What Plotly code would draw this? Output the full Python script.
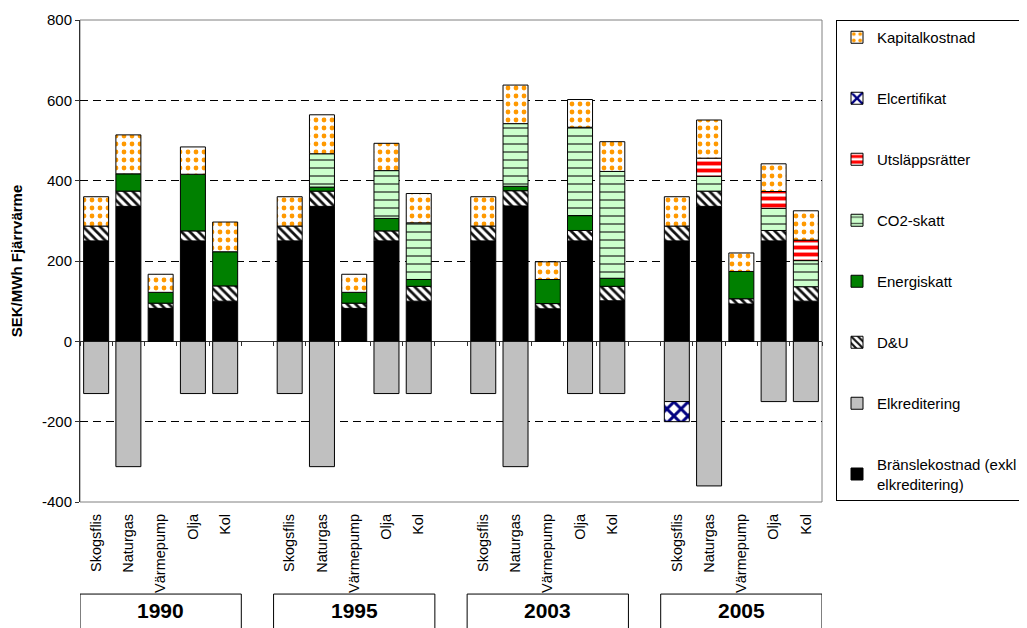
import plotly.graph_objects as go

# ---------------- data ----------------
years = ["1990", "1995", "2003", "2005"]
categories = ["Skogsflis", "Naturgas", "Värmepump", "Olja", "Kol"]

bransle = {
    "1990": [250, 336, 82, 250, 100],
    "1995": [250, 336, 82, 250, 100],
    "2003": [250, 337, 81, 250, 101],
    "2005": [250, 336, 93, 250, 100],
}
elkreditering = {
    "1990": [-130, -312, 0, -130, -130],
    "1995": [-130, -312, 0, -130, -130],
    "2003": [-130, -312, 0, -130, -130],
    "2005": [-150, -360, 0, -150, -150],
}
du = {
    "1990": [37, 38, 13, 25, 38],
    "1995": [37, 38, 13, 25, 37],
    "2003": [37, 38, 13, 26, 36],
    "2005": [37, 38, 13, 26, 36],
}
energiskatt = {
    "1990": [0, 43, 27, 141, 85],
    "1995": [0, 10, 27, 31, 17],
    "2003": [0, 11, 60, 37, 20],
    "2005": [0, 0, 68, 0, 0],
}
co2skatt = {
    "1990": [0, 0, 0, 0, 0],
    "1995": [0, 83, 0, 119, 141],
    "2003": [0, 156, 0, 220, 266],
    "2005": [0, 37, 0, 55, 65],
}
utslapp = {
    "1990": [0, 0, 0, 0, 0],
    "1995": [0, 0, 0, 0, 0],
    "2003": [0, 0, 0, 0, 0],
    "2005": [0, 45, 0, 42, 51],
}
elcertifikat = {
    "1990": [0, 0, 0, 0, 0],
    "1995": [0, 0, 0, 0, 0],
    "2003": [0, 0, 0, 0, 0],
    "2005": [-50, 0, 0, 0, 0],
}
kapital = {
    "1990": [73, 97, 45, 68, 74],
    "1995": [73, 97, 45, 68, 73],
    "2003": [73, 96, 44, 69, 74],
    "2005": [73, 95, 46, 69, 73],
}
y_ticks = [-400, -200, 0, 200, 400, 600, 800]

# ---------------- layout helpers ----------------
FONT = "Liberation Sans, Arial, sans-serif"
W, H = 1019, 620            # page body adds an 8px offset; figure ends at the window edge
ML, MT = 72, 12
PW, PH = 742, 482
slot = len(categories) + 1  # one empty slot between year groups
n_slots = len(years) * slot - 1
ymin, ymax = y_ticks[0], y_ticks[-1]

xpos, xlab = [], []
for g, yr in enumerate(years):
    for c, cat in enumerate(categories):
        xpos.append(g * slot + c)
        xlab.append(cat)


def flat(d):
    out = []
    for yr in years:
        out += [v if v else None for v in d[yr]]
    return out


def pat(shape, fg, bg, size, solidity):
    return dict(shape=shape, fgcolor=fg, bgcolor=bg, size=size, solidity=solidity,
                fillmode="overlay", fgopacity=1)


series = [
    ("Bränslekostnad (exkl<br>elkreditering)", bransle, dict(color="black")),
    ("Elkreditering", elkreditering, dict(color="#C0C0C0")),
    ("D&U", du, dict(color="white", pattern=pat("\\", "#101010", "white", 6, 0.45))),
    ("Energiskatt", energiskatt, dict(color="#008000")),
    ("CO2-skatt", co2skatt, dict(color="#CCFFCC", pattern=pat("-", "#4A5A4A", "#CCFFCC", 8, 0.2))),
    ("Utsläppsrätter", utslapp, dict(color="white", pattern=pat("-", "#FF0000", "white", 7, 0.55))),
    ("Elcertifikat", elcertifikat, dict(color="white", pattern=pat("x", "#000080", "white", 10, 0.5))),
    ("Kapitalkostnad", kapital, dict(color="white", pattern=pat(".", "#FF9900", "white", 8, 0.28))),
]

fig = go.Figure()
n = len(series)
for i, (name, d, mk) in enumerate(series):
    mk = dict(mk)
    mk["line"] = dict(color="black", width=1)
    fig.add_trace(go.Bar(
        x=xpos, y=flat(d), name=name, marker=mk,
        legendgroup="g%d" % i, legendrank=n - i, hoverinfo="name+y",
    ))

# dummy trace to carry the tick marks on the zero line
fig.add_trace(go.Scatter(x=[None], y=[None], xaxis="x2", showlegend=False, hoverinfo="skip"))

boundaries = [k - 0.5 for k in range(n_slots + 1)]

fig.update_layout(
    width=W, height=H,
    margin=dict(l=ML, r=W - ML - PW, t=MT, b=H - MT - PH, autoexpand=False),
    paper_bgcolor="white", plot_bgcolor="white",
    barmode="relative", bargap=0.225,
    font=dict(family=FONT, color="black"),
    showlegend=True,
    legend=dict(
        x=(828 - ML) / PW, y=1 + (MT - 12) / PH, xanchor="left", yanchor="top",
        bordercolor="black", borderwidth=1, bgcolor="white",
        font=dict(family=FONT, size=15, color="black"),
        traceorder="grouped", tracegroupgap=38.5, maxheight=600,
    ),
    xaxis=dict(
        range=[-0.5, n_slots - 0.5], tickmode="array", tickvals=xpos, ticktext=xlab,
        tickangle=-90, ticks="", ticklabelstandoff=8, automargin=False,
        tickfont=dict(family=FONT, size=14.5, color="black"),
        showgrid=False, zeroline=False, showline=False, fixedrange=True,
    ),
    xaxis2=dict(
        overlaying="x", anchor="free", position=(0 - ymin) / (ymax - ymin),
        range=[-0.5, n_slots - 0.5], tickmode="array", tickvals=boundaries,
        ticks="outside", ticklen=4, tickcolor="#303030", tickwidth=1,
        showticklabels=False, showgrid=False, zeroline=False, showline=False,
    ),
    yaxis=dict(
        range=[ymin, ymax], tickmode="array", tickvals=y_ticks,
        ticktext=[str(v) for v in y_ticks], automargin=False,
        ticks="outside", ticklen=4, tickcolor="#303030",
        tickfont=dict(family=FONT, size=15, color="black"),
        showgrid=True, gridcolor="black", gridwidth=1, griddash="8px,5px",
        zeroline=True, zerolinecolor="#303030", zerolinewidth=1,
        showline=True, linecolor="#303030", linewidth=1,
        title=dict(text="<b>SEK/MWh Fjärrvärme</b>", standoff=16,
                   font=dict(family=FONT, size=15, color="black")),
    ),
)

# plot-area frame (grey, as in the original)
fig.add_shape(type="rect", xref="paper", yref="paper", x0=0, x1=1, y0=0, y1=1,
              line=dict(color="#808080", width=1), layer="below")

# year boxes under the category labels
for g, yr in enumerate(years):
    fig.add_shape(type="rect", xref="x", yref="paper",
                  x0=g * slot - 0.5, x1=g * slot + len(categories) - 0.5,
                  y0=-0.32, y1=-0.191, line=dict(color="black", width=1))
    fig.add_annotation(x=g * slot + (len(categories) - 1) / 2, y=-0.225, xref="x", yref="paper",
                       text="<b>%s</b>" % yr, showarrow=False, yanchor="middle",
                       font=dict(family=FONT, size=21, color="black"))

fig.write_html("out.html")
